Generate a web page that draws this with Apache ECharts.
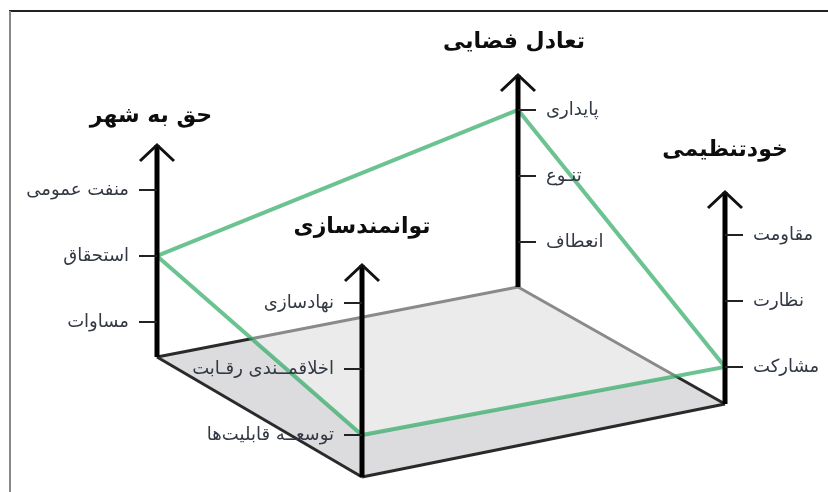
<!DOCTYPE html>
<html>
<head>
<meta charset="utf-8">
<title>chart</title>
<script src="https://cdn.jsdelivr.net/npm/echarts@6/dist/echarts.min.js"></script>
<style>
  html, body { margin: 0; padding: 0; background: #fff; }
  #chart { width: 828px; height: 492px; }
</style>
</head>
<body>
<div id="chart"></div>
<script>
// dimensions, in the order the green ring walks round them
var dimensions = ['حق به شهر', 'توانمندسازی', 'خودتنظیمی', 'تعادل فضایی'];
// tick labels per dimension, bottom to top
var tickLabels = [
  ['مساوات', 'استحقاق', 'منفت عمومی'],
  ['توسعــه قابلیت‌ها', 'اخلاقمــندی رقـابت', 'نهادسازی'],
  ['مشارکت', 'نظارت', 'مقاومت'],
  ['انعطاف', 'تنـوع', 'پایداری']
];
// level reached on each dimension (1 = lowest tick)
var levels = [2, 1, 1, 3];

// layout (pixel space of the hidden axes)
var basePoints = [[157, 357], [362, 477], [725, 404], [518, 287]]; // foot of each axis = floor corner
var firstTick = [35, 42, 37, 45];
var tickStep = 66;
var axisLength = 212;
var labelSide = [-1, -1, 1, 1];          // -1 labels on the left, 1 on the right
var titleShift = [[-6, 29], [0, 38], [0, 42], [-4, 33]]; // title centre relative to arrow tip

var font = 'DejaVu Sans, Noto Sans, sans-serif';

function levelY(i, v) {
  return basePoints[i][1] - firstTick[i] - (v - 1) * tickStep;
}

var ringPoints = levels.map(function (v, i) {
  return [basePoints[i][0], levelY(i, v)];
});

var chart = echarts.init(document.getElementById('chart'));

var option = {
  animation: false,
  backgroundColor: '#fff',
  grid: { left: 0, right: 0, top: 0, bottom: 0 },
  xAxis: { type: 'value', min: 0, max: 828, show: false },
  yAxis: { type: 'value', min: 0, max: 492, inverse: true, show: false },
  graphic: [
    { type: 'line', shape: { x1: 9, y1: 11, x2: 828, y2: 11 }, style: { stroke: '#222', lineWidth: 2 } },
    { type: 'line', shape: { x1: 10, y1: 11, x2: 10, y2: 492 }, style: { stroke: '#888', lineWidth: 2 } }
  ],
  series: [
    {
      // floor
      type: 'custom',
      z: 1,
      silent: true,
      data: [0],
      renderItem: function (params, api) {
        var pts = basePoints.map(function (p) { return api.coord(p); });
        var children = [{
          type: 'polygon',
          shape: { points: pts },
          style: { fill: '#dcdbdd', stroke: null }
        }];
        for (var k = 0; k < pts.length; k++) {
          var a = pts[k], b = pts[(k + 1) % pts.length];
          children.push({
            type: 'line',
            shape: { x1: a[0], y1: a[1], x2: b[0], y2: b[1] },
            style: { stroke: '#2a2a2a', lineWidth: 3 }
          });
        }
        return { type: 'group', children: children };
      }
    },
    {
      // green ring through the levels
      type: 'custom',
      z: 2,
      silent: true,
      data: [0],
      renderItem: function (params, api) {
        var pts = ringPoints.map(function (p) { return api.coord(p); });
        return {
          type: 'polygon',
          shape: { points: pts },
          style: {
            fill: 'rgba(255,255,255,0.45)',
            stroke: 'rgba(46,170,100,0.7)',
            lineWidth: 4,
            lineJoin: 'miter'
          }
        };
      }
    },
    {
      // the four axes
      type: 'custom',
      z: 3,
      silent: true,
      data: dimensions.map(function (d, i) { return basePoints[i]; }),
      renderItem: function (params, api) {
        var i = params.dataIndex;
        var x = basePoints[i][0];
        var base = api.coord(basePoints[i]);
        var tip = api.coord([x, basePoints[i][1] - axisLength]);
        var side = labelSide[i];
        var children = [
          { type: 'line', shape: { x1: base[0], y1: base[1], x2: tip[0], y2: tip[1] },
            style: { stroke: '#000', lineWidth: 5 } },
          { type: 'polyline', shape: { points: [[tip[0] - 17, tip[1] + 16], [tip[0], tip[1]], [tip[0] + 17, tip[1] + 16]] },
            style: { stroke: '#111', lineWidth: 3, fill: null } }
        ];
        tickLabels[i].forEach(function (lab, k) {
          var p = api.coord([x, levelY(i, k + 1)]);
          children.push({
            type: 'line',
            shape: { x1: p[0], y1: p[1], x2: p[0] + side * 18, y2: p[1] },
            style: { stroke: '#222', lineWidth: 2 }
          });
          children.push({
            type: 'text',
            x: p[0] + side * 28,
            y: p[1],
            style: {
              text: lab,
              fill: '#323844',
              font: '18px ' + font,
              align: side < 0 ? 'right' : 'left',
              verticalAlign: 'middle'
            }
          });
        });
        children.push({
          type: 'text',
          x: tip[0] + titleShift[i][0],
          y: tip[1] - titleShift[i][1],
          style: {
            text: dimensions[i],
            fill: '#0d0d0d',
            font: 'bold 22px ' + font,
            align: 'center',
            verticalAlign: 'middle'
          }
        });
        return { type: 'group', children: children };
      }
    }
  ]
};

chart.setOption(option);
</script>
</body>
</html>
